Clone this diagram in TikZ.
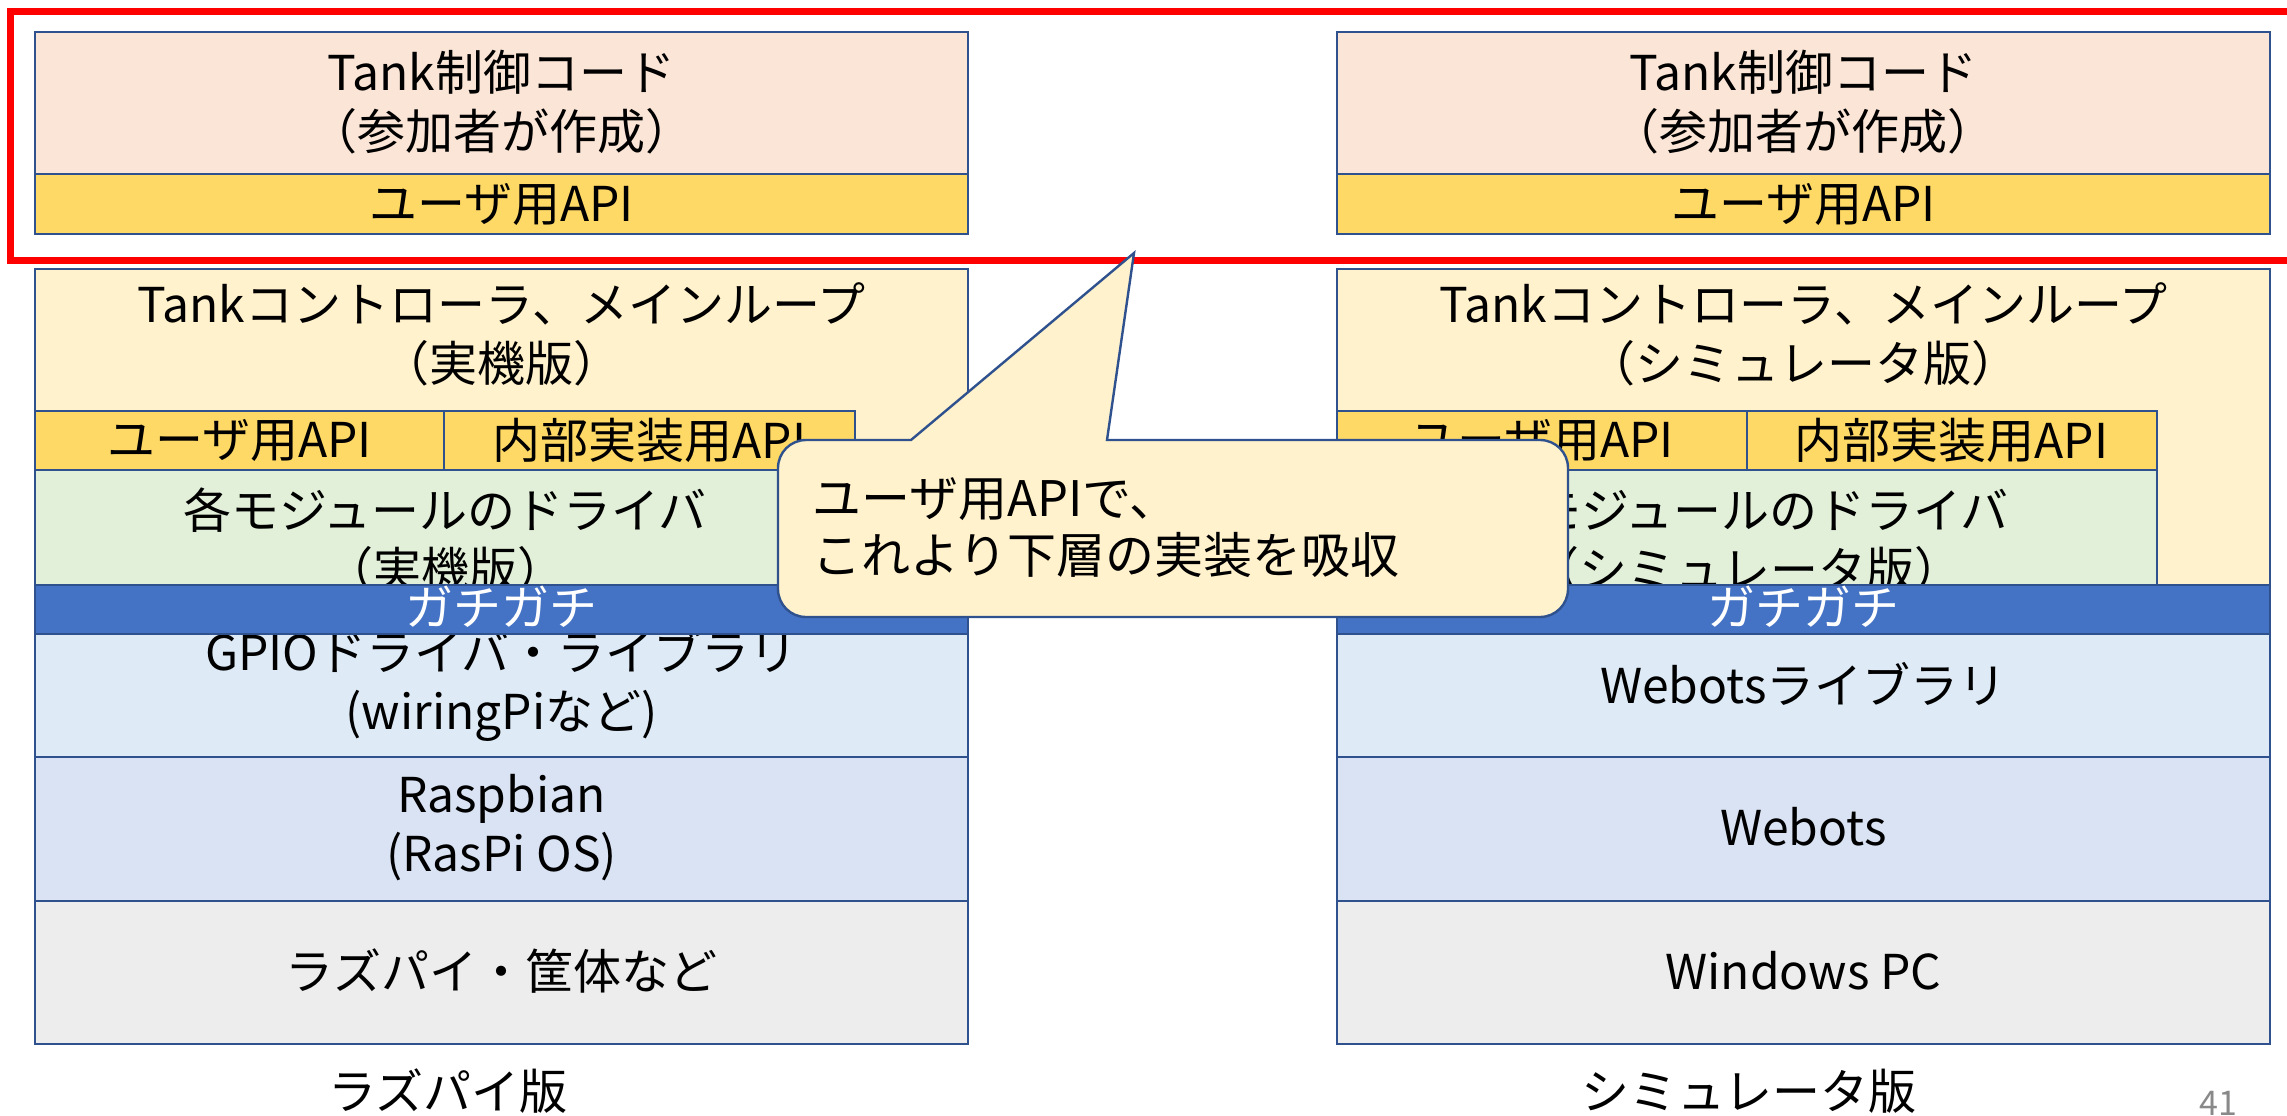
\documentclass[tikz,border=0pt]{standalone}
\usepackage{fontspec}
\setmainfont{Noto Sans CJK JP}
\definecolor{bord}{HTML}{2F528F}
\definecolor{pinkc}{HTML}{FBE5D6}
\definecolor{apic}{HTML}{FFD966}
\definecolor{mainc}{HTML}{FFF2CC}
\definecolor{greenc}{HTML}{E2F0D9}
\definecolor{bandc}{HTML}{4472C4}
\definecolor{gpioc}{HTML}{DEEBF7}
\definecolor{osc}{HTML}{DAE3F3}
\definecolor{hwc}{HTML}{EDEDED}
\definecolor{redc}{HTML}{FF0000}
\definecolor{numc}{HTML}{898989}
\tikzset{
  layer/.style={draw=bord, line width=1.2pt},
  lbl/.style={font=\fontsize{24}{29.5}\selectfont, align=center, inner sep=0pt, text=black},
  bandtxt/.style={lbl, text=white},
  calltxt/.style={font=\fontsize{24.5}{28.5}\selectfont, align=left, inner sep=0pt, anchor=west},
  pagenum/.style={font=\fontsize{17}{20}\selectfont, text=numc, inner sep=0pt}
}
\begin{document}
\begin{tikzpicture}[x=0.5pt,y=-0.5pt]
\useasboundingbox (0,0) rectangle (2287,1115);
% red frame
\draw[redc, line width=3.5pt] (10,11) rectangle (2320,260);

% ===== left stack =====
\path[layer, fill=pinkc] (35,32) rectangle (968,174);
\path[layer, fill=apic] (35,174) rectangle (968,234);
\path[layer, fill=mainc] (35,269) rectangle (968,585);
\path[layer, fill=apic] (35,411) rectangle (444,470);
\path[layer, fill=apic] (444,411) rectangle (855,470);
\path[layer, fill=greenc] (35,470) rectangle (855,585);
\node[lbl] (l1) at (501.5,102) {Tank制御コード\\（参加者が作成）};
\node[lbl] (l2) at (501.5,204) {ユーザ用API};
\node[lbl] (l3) at (501.5,334) {Tankコントローラ、メインループ\\（実機版）};
\node[lbl] (l4) at (239.5,440) {ユーザ用API};
\node[lbl] (l5) at (649.5,440) {内部実装用API};
\node[lbl] (l6) at (445,540) {各モジュールのドライバ\\（実機版）};
\path[layer, fill=gpioc] (35,634) rectangle (968,757);
\node[lbl] (l8) at (501.5,685) {GPIOドライバ・ライブラリ\\(wiringPiなど)};
\path[layer, fill=bandc] (35,585) rectangle (968,634);
\node[bandtxt] (l7) at (501.5,607) {ガチガチ};
\path[layer, fill=osc] (35,757) rectangle (968,901);
\node[lbl] (l9) at (501.5,828) {Raspbian\\(RasPi OS)};
\path[layer, fill=hwc] (35,901) rectangle (968,1044);
\node[lbl] (l10) at (501.5,971) {ラズパイ・筐体など};
\node[lbl] (lcap) at (448,1091) {ラズパイ版};

% ===== right stack =====
\path[layer, fill=pinkc] (1337,32) rectangle (2270,174);
\path[layer, fill=apic] (1337,174) rectangle (2270,234);
\path[layer, fill=mainc] (1337,269) rectangle (2270,585);
\path[layer, fill=apic] (1337,411) rectangle (1747,470);
\path[layer, fill=apic] (1747,411) rectangle (2157,470);
\path[layer, fill=greenc] (1337,470) rectangle (2157,585);
\node[lbl] (r1) at (1803.5,102) {Tank制御コード\\（参加者が作成）};
\node[lbl] (r2) at (1803.5,204) {ユーザ用API};
\node[lbl] (r3) at (1803.5,334) {Tankコントローラ、メインループ\\（シミュレータ版）};
\node[lbl] (r4) at (1541.5,440) {ユーザ用API};
\node[lbl] (r5) at (1951.5,440) {内部実装用API};
\node[lbl] (r6) at (1747,540) {各モジュールのドライバ\\（シミュレータ版）};
\path[layer, fill=gpioc] (1337,634) rectangle (2270,757);
\node[lbl] (r8) at (1803.5,684) {Webotsライブラリ};
\path[layer, fill=bandc] (1337,585) rectangle (2270,634);
\node[bandtxt] (r7) at (1803.5,607) {ガチガチ};
\path[layer, fill=osc] (1337,757) rectangle (2270,901);
\node[lbl] (r9) at (1803.5,827) {Webots};
\path[layer, fill=hwc] (1337,901) rectangle (2270,1044);
\node[lbl] (r10) at (1803.5,971) {Windows PC};
\node[lbl] (rcap) at (1749,1091) {シミュレータ版};

% page number
\node[pagenum] (pnum) at (2218,1103) {41};

% ===== callout =====
\path[layer, fill=mainc]
  (911,440) -- (1134,253) -- (1107,440) -- (1540,440)
  .. controls (1555.5,440) and (1568,452.5) .. (1568,468)
  -- (1568,589)
  .. controls (1568,604.5) and (1555.5,617) .. (1540,617)
  -- (806,617)
  .. controls (790.5,617) and (778,604.5) .. (778,589)
  -- (778,468)
  .. controls (778,452.5) and (790.5,440) .. (806,440)
  -- cycle;
\node[calltxt] (ctext) at (812,528) {ユーザ用APIで、\\これより下層の実装を吸収};
\end{tikzpicture}
\end{document}
